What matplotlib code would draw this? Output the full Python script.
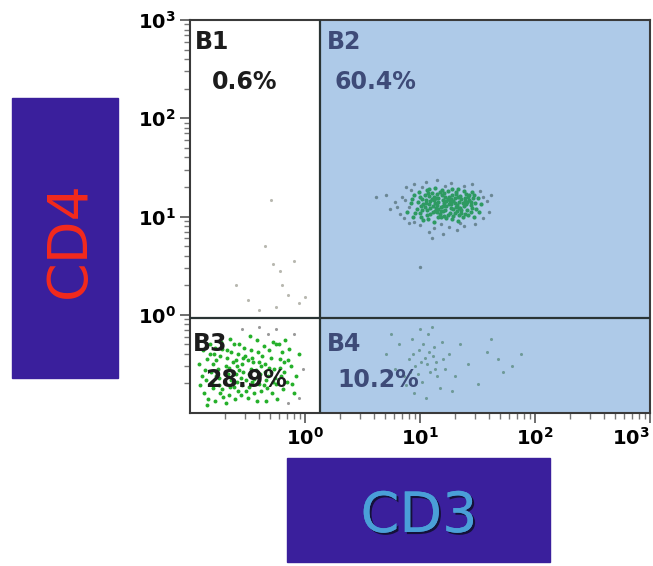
import numpy as np
import matplotlib
matplotlib.use("Agg")
import matplotlib.pyplot as plt
import matplotlib.patheffects as pe
from matplotlib.patches import Rectangle
from matplotlib.ticker import FixedLocator, LogLocator, NullFormatter

# quadrant gates (data units)
GATE_X = 1.35
GATE_Y = 0.93

quad_names = ["B1", "B2", "B3", "B4"]
quad_pcts = ["0.6%", "60.4%", "28.9%", "10.2%"]

major_ticks = [1, 10, 100, 1000]
tick_labels = [r"$\mathbf{10^{0}}$", r"$\mathbf{10^{1}}$",
               r"$\mathbf{10^{2}}$", r"$\mathbf{10^{3}}$"]

# events, as log10(CD3), log10(CD4)
b2_core = [(1.02,1.18),(1.11,1.05),(1.19,1.22),(1.27,1.09),(1.34,1.15),(1.42,1.02),(0.97,1.08),
           (1.06,1.27),(1.15,1.12),(1.23,0.98),(1.31,1.25),(1.38,1.11),(1.46,1.19),(0.92,1.14),
           (1.01,0.99),(1.09,1.16),(1.17,1.03),(1.25,1.20),(1.33,0.95),(1.40,1.23),(1.49,1.08),
           (0.95,1.22),(1.04,1.10),(1.13,1.29),(1.21,1.14),(1.29,1.01),(1.36,1.18),(1.44,1.12),
           (1.00,1.04),(1.08,1.21),(1.16,1.08),(1.24,1.26),(1.32,1.06),(1.39,1.16),(1.47,0.99),
           (0.89,1.05),(0.99,1.25),(1.07,0.97),(1.14,1.19),(1.22,1.07),(1.30,1.14),(1.37,1.00),
           (1.45,1.25),(1.53,1.13),(1.03,1.13),(1.12,0.94),(1.20,1.17),(1.28,1.22),(1.35,1.09),
           (1.43,1.17),(0.94,0.99),(1.05,1.17),(1.18,1.10),(1.26,1.04),(1.33,1.28),(1.41,1.07),
           (1.10,1.24),(1.16,1.15),(1.27,1.13),(1.21,1.01),(1.09,1.09),(1.35,1.21),(1.13,1.06),
           (1.24,1.18),(1.31,1.10),(1.19,1.27),(1.06,1.02),(1.40,1.13),(1.28,0.97),(1.15,1.23),
           (0.98,1.15),(1.50,1.19),(1.36,1.04),(1.23,1.11),(1.12,1.17),(1.02,1.07),(1.44,1.05),
           (1.30,1.19),(1.18,0.99),(1.08,1.13),(1.26,1.16),(1.34,1.02),(1.11,1.11),(1.20,1.06),
           (1.38,1.26),(1.04,1.22),(1.16,1.00),(1.29,1.08),(1.42,1.20),(1.48,1.14),
           (1.05,1.14),(1.14,1.09),(1.22,1.20),(1.30,1.04),(1.37,1.14),(1.45,1.09),(1.00,1.20),
           (1.09,1.03),(1.17,1.25),(1.25,1.13),(1.33,1.20),(1.41,1.15),(0.96,1.04),(1.07,1.24),
           (1.15,1.05),(1.23,1.16),(1.32,1.12),(1.39,1.03),(1.47,1.22),(1.03,0.96),(1.12,1.20),
           (1.20,1.11),(1.28,1.28),(1.36,1.07),(1.43,1.22),(0.93,1.18),(1.01,1.11),(1.10,1.18),
           (1.18,1.06),(1.27,1.18),(1.34,1.09),(1.51,1.05),(1.13,1.14),(1.21,1.24),(1.29,1.16),
           (1.06,1.07),(1.24,1.02),(1.39,1.19),(1.16,1.19),(1.31,1.23),(1.08,1.28),(1.44,1.15)]
b2_fringe = [(0.80,1.10),(0.84,1.20),(0.86,0.98),(0.78,1.15),(0.70,1.22),(0.88,1.30),(0.95,1.33),
             (1.05,1.35),(1.15,1.37),(1.27,1.34),(1.38,1.31),(1.52,1.26),(1.58,1.16),(1.60,1.05),
             (1.55,0.98),(1.48,0.92),(1.38,0.90),(1.25,0.89),(1.12,0.88),(1.00,0.91),(0.90,0.93),
             (1.08,0.84),(1.20,0.82),(1.32,0.86),(0.83,1.03),(0.74,1.08),(1.62,1.22),(1.10,0.78),
             (1.45,1.33),(0.92,1.27),(1.00,0.49),(0.62,1.20),(0.90,1.10),(0.87,1.17),(0.95,0.94),
             (1.02,1.30),(1.22,1.31),(1.35,0.93),(1.55,1.20),(1.18,0.92)]
b3_events = [(-0.90,-0.62),(-0.85,-0.45),(-0.80,-0.75),(-0.76,-0.55),(-0.72,-0.35),(-0.70,-0.68),
             (-0.66,-0.82),(-0.63,-0.48),(-0.60,-0.60),(-0.57,-0.30),(-0.55,-0.72),(-0.52,-0.42),
             (-0.50,-0.85),(-0.47,-0.55),(-0.44,-0.65),(-0.41,-0.38),(-0.38,-0.78),(-0.35,-0.50),
             (-0.32,-0.62),(-0.28,-0.28),(-0.25,-0.70),(-0.22,-0.45),(-0.18,-0.58),(-0.14,-0.35),
             (-0.10,-0.80),(-0.88,-0.80),(-0.83,-0.30),(-0.78,-0.88),(-0.74,-0.42),(-0.69,-0.52),
             (-0.65,-0.25),(-0.62,-0.74),(-0.58,-0.40),(-0.54,-0.58),(-0.51,-0.66),(-0.48,-0.22),
             (-0.45,-0.48),(-0.42,-0.88),(-0.39,-0.60),(-0.36,-0.32),(-0.33,-0.75),(-0.30,-0.44),
             (-0.27,-0.55),(-0.24,-0.86),(-0.20,-0.38),(-0.16,-0.68),(-0.12,-0.52),(-0.92,-0.50),
             (-0.86,-0.66),(-0.82,-0.58),(-0.79,-0.40),(-0.75,-0.72),(-0.71,-0.84),(-0.67,-0.60),
             (-0.64,-0.38),(-0.61,-0.86),(-0.59,-0.52),(-0.56,-0.64),(-0.53,-0.34),(-0.49,-0.74),
             (-0.46,-0.44),(-0.43,-0.56),(-0.40,-0.70),(-0.37,-0.42),(-0.34,-0.88),(-0.31,-0.54),
             (-0.26,-0.64),(-0.23,-0.30),(-0.19,-0.76),(-0.15,-0.46),(-0.08,-0.62),(-0.05,-0.40),
             (-0.89,-0.36),(-0.84,-0.86),(-0.77,-0.62),(-0.73,-0.28),(-0.68,-0.44),(-0.64,-0.66),
             (-0.58,-0.78),(-0.55,-0.50),(-0.50,-0.46),(-0.46,-0.68),(-0.42,-0.26),(-0.38,-0.52),
             (-0.34,-0.66),(-0.29,-0.80),(-0.21,-0.62),(-0.17,-0.26),(-0.11,-0.70),(-0.80,-0.50),
             (-0.70,-0.60),(-0.60,-0.46),(-0.66,-0.54),(-0.56,-0.82),(-0.74,-0.80),(-0.25,-0.30),
             (-0.87,-0.56),(-0.81,-0.68),(-0.77,-0.46),(-0.72,-0.76),(-0.68,-0.36),(-0.63,-0.58),
             (-0.59,-0.68),(-0.54,-0.44),(-0.49,-0.60),(-0.44,-0.80),(-0.40,-0.48),(-0.35,-0.58),
             (-0.31,-0.36),(-0.28,-0.68),(-0.22,-0.54),(-0.91,-0.72),(-0.83,-0.40),(-0.75,-0.64),
             (-0.69,-0.90),(-0.62,-0.30),(-0.57,-0.56),(-0.51,-0.78),(-0.47,-0.36),(-0.41,-0.62),
             (-0.36,-0.72),(-0.30,-0.58),(-0.18,-0.48),(-0.85,-0.92),(-0.78,-0.34),(-0.65,-0.74)]
b3_grey = [(-0.40,-0.12),(-0.25,-0.15),(-0.10,-0.20),(-0.55,-0.15),(-0.05,-0.85),(-0.15,-0.90),
           (-0.32,-0.20),(-0.02,-0.55)]
b4_events = [(0.70,-0.40),(0.78,-0.55),(0.82,-0.30),(0.86,-0.62),(0.90,-0.45),(0.93,-0.25),
             (0.96,-0.52),(0.99,-0.36),(1.02,-0.68),(1.04,-0.44),(1.07,-0.20),(1.09,-0.58),
             (1.12,-0.33),(1.14,-0.48),(1.17,-0.75),(1.19,-0.28),(1.22,-0.55),(1.25,-0.40),
             (1.30,-0.62),(1.35,-0.30),(1.42,-0.50),(1.50,-0.70),(1.58,-0.38),(1.68,-0.45),
             (1.72,-0.58),(1.80,-0.52),(1.88,-0.40),(0.95,-0.80),(1.05,-0.85),(1.00,-0.15),
             (1.10,-0.12),(0.88,-0.72),(1.15,-0.62),(1.28,-0.78),(1.62,-0.25),(0.75,-0.20),
             (1.06,-0.50),(0.98,-0.60),(1.11,-0.42),(1.20,-0.45),(1.03,-0.30),(1.08,-0.38),
             (0.94,-0.40),(1.13,-0.55),(1.01,-0.48),(0.91,-0.58)]
b1_events = [(-0.30,1.17),(-0.35,0.70),(-0.28,0.52),(-0.22,0.45),(-0.20,0.30),(-0.15,0.20),
             (-0.05,0.12),(-0.50,0.15),(-0.10,0.55),(-0.40,0.05),(-0.25,0.08),(0.00,0.18),
             (-0.60,0.30)]


def _scatter(ax, pts, color, size=5):
    arr = 10 ** np.array(pts)
    ax.scatter(arr[:, 0], arr[:, 1], s=size, c=color, linewidths=0, zorder=3)


fig = plt.figure(figsize=(6.53, 5.66), dpi=100)
ax = fig.add_axes([190 / 653, 1 - 413 / 566, 460 / 653, 393 / 566])
ax.set_xscale("log")
ax.set_yscale("log")
ax.set_xlim(0.1, 1000)
ax.set_ylim(0.1, 1000)

# shaded CD3+ region
ax.axvspan(GATE_X, 1000, color="#aecae8", zorder=0)

_scatter(ax, b2_fringe, "#6b8794", 6)
_scatter(ax, b2_core, "#2e9a62", 9)
_scatter(ax, b3_events, "#25b02a", 8)
_scatter(ax, b3_grey, "#9a9a9a", 5)
_scatter(ax, b4_events, "#6f9a98", 5)
_scatter(ax, b1_events, "#b8b8b0", 5)

ax.axvline(GATE_X, color="#2a3434", lw=1.6, zorder=4)
ax.axhline(GATE_Y, color="#2a3434", lw=1.6, zorder=4)

for sp in ax.spines.values():
    sp.set_color("#3a3a3a")
    sp.set_linewidth(1.5)

for axis in (ax.xaxis, ax.yaxis):
    axis.set_major_locator(FixedLocator(major_ticks))
    axis.set_minor_locator(LogLocator(base=10, subs=np.arange(2, 10), numticks=20))
    axis.set_minor_formatter(NullFormatter())
ax.set_xticklabels(tick_labels)
ax.set_yticklabels(tick_labels)
ax.tick_params(which="major", length=7, width=1.2, color="#555555", labelsize=14, pad=3)
ax.tick_params(which="minor", length=4, width=1.0, color="#777777")
# last x label sits flush with the right edge, as in the original
ax.get_xticklabels()[-1].set_horizontalalignment("right")

# quadrant labels
dark = "#1c1c1c"
blue = "#3e4b78"
spots = [(0.011, 0.975, 0.048, 0.872, dark), (0.298, 0.975, 0.315, 0.872, blue),
         (0.007, 0.205, 0.033, 0.114, dark), (0.298, 0.205, 0.32, 0.114, blue)]
for name, pct, (nx, ny, px, py, col) in zip(quad_names, quad_pcts, spots):
    ax.text(nx, ny, name, transform=ax.transAxes, fontsize=17, fontweight="bold",
            color=col, va="top", ha="left", zorder=5)
    ax.text(px, py, pct, transform=ax.transAxes, fontsize=17, fontweight="bold",
            color=col, va="top", ha="left", zorder=5)

# axis title boxes
box_col = "#3a1f9c"
fig.patches.append(Rectangle((12 / 653, 1 - 378 / 566), 106 / 653, 280 / 566,
                             transform=fig.transFigure, color=box_col, zorder=0))
fig.patches.append(Rectangle((287 / 653, 1 - 562 / 566), 263 / 653, 104 / 566,
                             transform=fig.transFigure, color=box_col, zorder=0))
fig.text(70 / 653, 1 - 240 / 566, "CD4", rotation=90, color="#f42a1c", fontsize=40,
         ha="center", va="center")
fig.text(419 / 653, 1 - 517 / 566, "CD3", color="#4a9fd8", fontsize=40,
         ha="center", va="center",
         path_effects=[pe.withSimplePatchShadow(offset=(1.5, -1.5), shadow_rgbFace="#101030",
                                                alpha=0.9), pe.Normal()])

fig.savefig("out.png", dpi=100)
